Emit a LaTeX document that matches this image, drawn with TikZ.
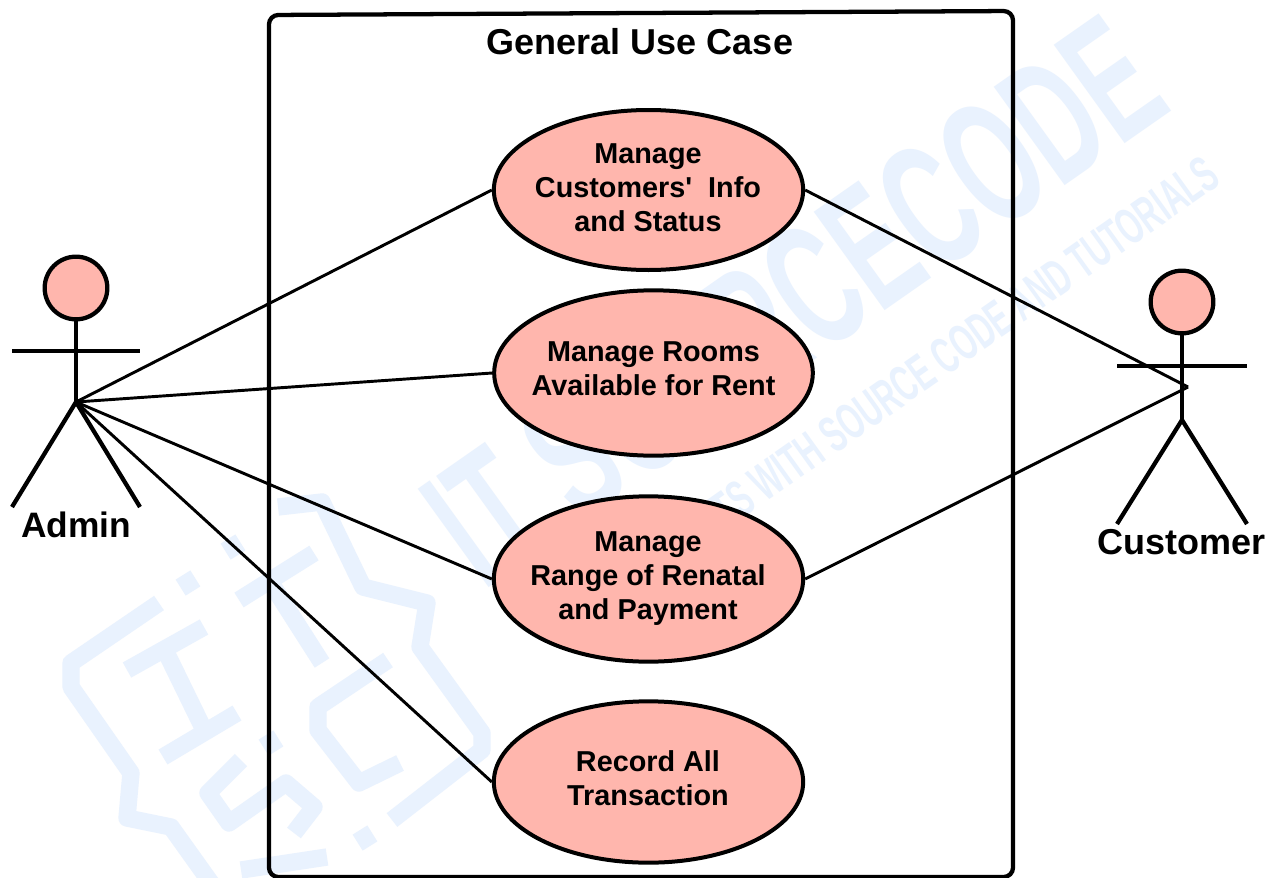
\documentclass[tikz,border=0pt]{standalone}
\usepackage{fontspec}
\setmainfont{Liberation Sans}
\newfontfamily\plainsans{Liberation Sans}
\definecolor{wm}{HTML}{E9F2FE}
\definecolor{usefill}{HTML}{FFB6AD}
\usetikzlibrary{shapes.geometric}
\tikzset{
  x=0.75pt,y=-0.75pt,
  usecase/.style={ellipse,draw=black,line width=3pt,fill=usefill,inner sep=0pt},
  usetext/.style={align=center,inner sep=0pt,font=\fontsize{21.6}{25.5}\selectfont\bfseries},
  actorline/.style={draw=black,line width=3.2pt},
  head/.style={circle,draw=black,line width=3.2pt,fill=usefill,inner sep=0pt,minimum size=47pt},
  assoc/.style={draw=black,line width=2.2pt},
  wmline/.style={draw=wm,line width=13pt,line join=round},
}
\begin{document}
\begin{tikzpicture}
\useasboundingbox (0,0) rectangle (1282,878);
\fill[white] (0,0) rectangle (1282,878);
% watermark
\begin{scope}
\clip (0,0) rectangle (1282,878);
\draw[wmline] (159,603) -- (71,663) -- (71,687) -- (131,773) -- (127,818) -- (171,827) -- (216,890);
\draw[wmline] (278,507) -- (322,502) -- (363,587) -- (427,603) -- (420,647) -- (482,733) -- (482,750) -- (392,820);
\draw[wmline] (183,575) -- (193,591);
\draw[wmline] (228,539) -- (238,555);
\draw[wmline] (127,670) -- (204,627);
\draw[wmline] (163,757) -- (237,713);
\draw[wmline] (165,650) -- (204,730);
\draw[wmline] (239,600) -- (314,553);
\draw[wmline] (269,580) -- (322,663);
\draw[wmline] (241,760) -- (208,793) -- (229,823) -- (286,783) -- (314,807) -- (294,833);
\draw[wmline] (388,660) -- (318,707) -- (318,730) -- (359,783) -- (400,763);
\draw[wmline] (266,735) -- (276,751);
\draw[wmline] (360,830) -- (370,846);
\draw[wmline] (241,870) -- (327,857);
\node[wm,inner sep=0pt,anchor=base west,cm={0.83,0.58,-1.03,1.43,(483,592)}]
  {\fontsize{75}{75}\selectfont\bfseries IT SOURCECODE};
\node[wm,inner sep=0pt,anchor=base west,cm={0.815,0.57,-1.0,1.39,(555,650)}]
  {\fontsize{22.5}{22.5}\selectfont\bfseries FREE PROJECTS WITH SOURCE CODE AND TUTORIALS};
\end{scope}
% system frame
\draw[black,line width=3.2pt,rounded corners=7pt] (269,15) -- (1013,11) -- (1013,877) -- (269,877) -- cycle;
\node[font=\fontsize{27}{30}\selectfont\bfseries,inner sep=0pt] (title) at (640,42) {General Use Case};
% use cases
\node[usecase,minimum width=232pt,minimum height=120pt] (uc1) at (648.5,190) {};
\node[usetext] (t1) at (648,188) {Manage\\Customers{\plainsans\bfseries'}\ \ Info\\and Status};
\node[usecase,minimum width=239pt,minimum height=124pt] (uc2) at (653.5,373) {};
\node[usetext] (t2) at (653.5,369) {Manage Rooms\\Available for Rent};
\node[usecase,minimum width=232pt,minimum height=124pt] (uc3) at (648.5,579) {};
\node[usetext] (t3) at (648,579) {Manage\\Range of Renatal\\and Payment};
\node[usecase,minimum width=232pt,minimum height=121pt] (uc4) at (648.5,782) {};
\node[usetext] (t4) at (648,778) {Record All\\Transaction};
% admin
\node[head] (ahead) at (76,288) {};
\coordinate (ahip) at (76,402);
\coordinate (alarm) at (12,351);
\coordinate (ararm) at (140,351);
\coordinate (alfoot) at (12,507);
\coordinate (arfoot) at (140,507);
\draw[actorline] (ahead.south) -- (ahip);
\draw[actorline] (alarm) -- (ararm);
\draw[actorline] (alfoot) -- (ahip) -- (arfoot);
\node[font=\fontsize{26.5}{30}\selectfont\bfseries,inner sep=0pt] (admin) at (76,525) {Admin};
% customer
\node[head] (chead) at (1182,302) {};
\coordinate (chip) at (1182,420);
\coordinate (clarm) at (1117,366);
\coordinate (crarm) at (1247,366);
\coordinate (clfoot) at (1117,524);
\coordinate (crfoot) at (1247,524);
\coordinate (cjoin) at (1188,387);
\draw[actorline] (chead.south) -- (chip);
\draw[actorline] (clarm) -- (crarm);
\draw[actorline] (clfoot) -- (chip) -- (crfoot);
\node[font=\fontsize{27}{30}\selectfont\bfseries,inner sep=0pt] (customer) at (1181.5,542) {Customer};
% associations
\draw[assoc] (ahip) -- (uc1.west);
\draw[assoc] (ahip) -- (uc2.west);
\draw[assoc] (ahip) -- (uc3.west);
\draw[assoc] (ahip) -- (uc4.west);
\draw[assoc] (uc1.east) -- (cjoin);
\draw[assoc] (uc3.east) -- (cjoin);
\end{tikzpicture}
\end{document}
